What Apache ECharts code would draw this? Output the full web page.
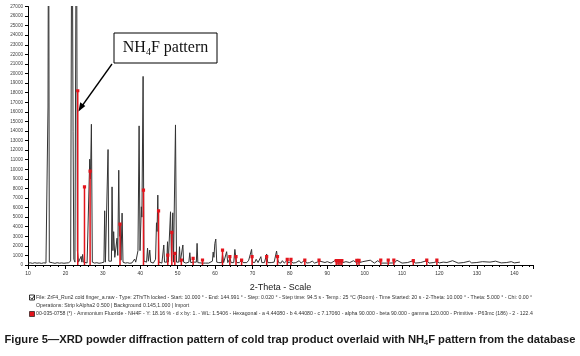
<!DOCTYPE html>
<html>
<head>
<meta charset="utf-8">
<script src="https://cdn.jsdelivr.net/npm/echarts@6/dist/echarts.min.js"></script>
<style>
html,body{margin:0;padding:0;background:#fff;}
#chart{width:580px;height:356px;}
</style>
</head>
<body>
<div id="chart"></div>
<script>
// ---- data ----
// measured scan (2-theta in degrees, counts)
const scanAngle = [
 10.0,10.6,11.2,11.8,12.4,13.0,13.6,14.2,14.8,15.15,15.35,15.5,15.7,16.0,16.6,17.2,17.8,18.4,19.0,19.6,20.2,20.8,21.4,21.75,22.05,22.25,22.55,22.95,23.2,23.5,23.9,24.2,24.4,24.6,24.8,25.3,25.8,26.2,26.5,26.7,26.95,27.2,27.8,28.4,29.0,29.6,30.3,30.5,30.7,31.2,31.4,31.6,32.3,32.47,32.7,32.9,33.2,33.8,34.0,34.26,34.45,34.6,34.85,35.15,35.4,36.0,36.6,37.2,37.8,38.5,38.8,39.4,39.7,39.95,40.3,40.45,40.77,41.0,41.7,41.95,42.2,42.55,42.8,43.5,44.1,44.35,44.5,44.7,45.0,45.8,46.3,46.5,47.1,47.3,47.5,47.9,48.1,48.35,48.7,48.9,49.2,49.43,49.7,50.3,50.5,50.7,51.2,51.4,51.6,52.2,53.0,53.26,53.5,54.2,55.0,55.2,55.4,56.5,57.0,57.5,58.3,59.3,59.5,59.7,59.95,60.2,60.45,61.0,61.8,62.0,62.3,62.8,63.1,63.4,64.0,64.3,65.0,65.3,65.6,65.8,66.5,67.1,67.5,68.5,69.0,69.5,69.77,70.0,70.6,71.0,71.5,72.25,72.5,73.2,73.8,74.1,75.0,75.8,76.45,76.7,77.0,77.6,78.0,78.5,79.3,79.7,80.3,80.8,81.6,82.5,83.0,84.0,84.5,85.3,86.0,86.6,88.0,88.5,89.4,90.0,91.0,92.0,92.6,93.0,94.0,95.0,96.0,97.0,98.0,98.6,99.5,100.0,101.5,102.6,103.5,104.3,104.8,106.3,106.8,108.0,108.6,110.0,111.5,113.0,113.5,115.0,116.6,117.2,118.5,119.3,120.0,121.0,122.0,123.5,125.0,126.5,128.0,128.6,130.0,131.5,132.0,133.5,135.0,136.5,138.0,139.2,140.0,141.5,143.0,144.0,145.0
];
const scanCounts = [
 180,230,170,240,190,220,170,230,200,300,16500,45000,300,180,230,170,240,190,220,180,210,230,400,45000,13900,600,300,45000,1500,300,220,900,300,1100,300,260,220,400,11050,9000,14700,300,200,240,180,220,300,5660,300,300,12060,400,400,8160,1500,3480,800,2800,1000,9900,3000,4380,500,5420,300,200,240,180,220,620,300,1500,14530,1500,6080,5000,19700,400,300,1770,400,1560,300,200,600,4410,3500,7300,300,200,2090,300,300,2430,300,500,5560,400,5450,300,300,14630,300,300,1910,300,300,2090,300,200,300,1280,250,300,300,2260,250,200,400,200,200,400,1350,800,2260,2710,300,250,250,1100,250,250,1390,250,700,250,250,1630,600,250,250,500,250,250,500,700,1630,300,250,600,250,870,250,250,1150,250,250,300,1460,700,250,200,450,200,500,200,450,200,250,450,200,500,200,250,400,200,400,200,260,350,200,450,200,400,230,350,250,450,200,250,350,220,500,200,450,200,400,200,300,220,500,200,260,450,200,260,450,200,260,350,220,300,260,450,200,260,400,220,260,350,220,300,400,220,260,350,220,300
];
// NH4F reference pattern 00-035-0758 (2-theta, counts)
const refAngle = [23.3,25.1,26.6,34.6,40.87,44.9,47.37,48.45,49.25,51.0,54.14,56.65,62.0,63.96,65.6,67.1,69.9,73.8,76.7,79.3,80.3,84.0,87.8,92.4,92.9,93.4,93.9,97.9,98.5,104.3,106.3,107.8,113.0,116.6,119.3];
const refCounts = [18200,8160,9800,4270,7820,5660,1040,3410,1220,520,700,520,1560,870,870,520,870,870,870,590,590,520,520,450,450,450,450,480,480,500,500,500,450,500,500];
// axis ticks
const xMin = 10, xMax = 145, xStep = 10;
const yMin = 0, yMax = 27000, yStep = 1000;

const scan = scanAngle.map((a, i) => [a, scanCounts[i]]);
const ref = refAngle.map((a, i) => [a, refCounts[i]]);

const RED = '#e3141c';
const chart = echarts.init(document.getElementById('chart'), null, {renderer: 'canvas'});
const tiny = {fontFamily: 'Liberation Sans, Arial, sans-serif', fontSize: 5.2, fill: '#333'};

chart.setOption({
  animation: false,
  backgroundColor: '#fff',
  grid: {left: 28, top: 6.5, right: 47, bottom: 91, containLabel: false, outerBoundsMode: 'none'},
  xAxis: {
    type: 'value', min: xMin, max: xMax, interval: xStep,
    name: '2-Theta - Scale', nameLocation: 'middle', nameGap: 18,
    nameTextStyle: {fontFamily: 'Liberation Sans, Arial, sans-serif', fontSize: 9, color: '#222'},
    axisLine: {show: true, lineStyle: {color: '#000', width: 1}},
    axisTick: {show: true, length: 4, lineStyle: {color: '#000'}},
    minorTick: {show: true, splitNumber: 5, length: 2, lineStyle: {color: '#000'}},
    axisLabel: {fontFamily: 'Liberation Sans, Arial, sans-serif', fontSize: 5, color: '#333', margin: 6,
      formatter: v => (v > 140 ? '' : String(v))},
    splitLine: {show: false}
  },
  yAxis: {
    type: 'value', min: yMin, max: yMax, interval: yStep,
    name: 'Lin (Counts)', nameLocation: 'middle', nameGap: 23,
    nameTextStyle: {fontFamily: 'Liberation Sans, Arial, sans-serif', fontSize: 9, color: '#222'},
    axisLine: {show: true, lineStyle: {color: '#000', width: 1}},
    axisTick: {show: true, length: 3, lineStyle: {color: '#000'}},
    axisLabel: {fontFamily: 'Liberation Sans, Arial, sans-serif', fontSize: 4.6, color: '#444', margin: 5,
      formatter: v => String(v)},
    splitLine: {show: false}
  },
  series: [
    {
      type: 'line', data: scan, showSymbol: false, symbol: 'none', clip: true,
      lineStyle: {color: '#333', width: 1}, z: 2
    },
    {
      type: 'custom', data: ref, clip: true, z: 3,
      renderItem: function (params, api) {
        const top = api.coord([api.value(0), api.value(1)]);
        const base = api.coord([api.value(0), 0]);
        return {type: 'group', children: [
          {type: 'line', shape: {x1: top[0], y1: top[1], x2: base[0], y2: base[1]},
           style: {stroke: RED, lineWidth: 1.5}},
          {type: 'rect', shape: {x: top[0] - 1.6, y: top[1] - 1.6, width: 3.2, height: 3.2},
           style: {fill: RED}}
        ]};
      }
    }
  ],
  graphic: [
    // annotation box
    {type: 'rect', shape: {x: 114, y: 33, width: 103, height: 30},
     style: {fill: '#fff', stroke: '#000', lineWidth: 1}, z: 10},
    {type: 'text', x: 165.5, y: 48, z: 11,
     style: {text: '{n|NH}{s|4}{n|F pattern}', align: 'center', verticalAlign: 'middle',
       rich: {n: {fontFamily: 'Liberation Serif, Times New Roman, serif', fontSize: 16, fill: '#111'},
              s: {fontFamily: 'Liberation Serif, Times New Roman, serif', fontSize: 10, fill: '#111', padding: [8, 0, 0, 0]}}}},
    {type: 'line', shape: {x1: 112, y1: 64, x2: 82, y2: 106},
     style: {stroke: '#000', lineWidth: 1.3}, z: 10},
    {type: 'polygon', shape: {points: [[78.5, 111.5], [80.2, 102.2], [85.3, 105.9]]},
     style: {fill: '#000'}, z: 10},
    // legend line 1
    {type: 'rect', shape: {x: 29.5, y: 295, width: 5, height: 5}, style: {fill: '#fff', stroke: '#000', lineWidth: 0.8}},
    {type: 'polyline', shape: {points: [[30.5, 297.5], [32, 299.3], [34.5, 295.5]]}, style: {stroke: '#000', lineWidth: 0.8, fill: null}},
    {type: 'text', x: 36, y: 297.5,
     style: Object.assign({}, tiny, {text: 'File: ZrF4_Run2 cold finger_a.raw - Type: 2Th/Th locked - Start: 10.000 ° - End: 144.991 ° - Step: 0.020 ° - Step time: 94.5 s - Temp.: 25 °C (Room) - Time Started: 20 s - 2-Theta: 10.000 ° - Theta: 5.000 ° - Chi: 0.00 °', verticalAlign: 'middle'})},
    {type: 'text', x: 36, y: 306,
     style: Object.assign({}, tiny, {text: 'Operations: Strip kAlpha2 0.500 | Background 0.145,1.000 | Import', verticalAlign: 'middle'})},
    {type: 'rect', shape: {x: 29.5, y: 311.5, width: 5, height: 5}, style: {fill: RED, stroke: '#000', lineWidth: 0.6}},
    {type: 'text', x: 36, y: 314,
     style: Object.assign({}, tiny, {text: '00-035-0758 (*) - Ammonium Fluoride - NH4F - Y: 18.16 % - d x by: 1. - WL: 1.5406 - Hexagonal - a 4.44080 - b 4.44080 - c 7.17060 - alpha 90.000 - beta 90.000 - gamma 120.000 - Primitive - P63mc (186) - 2 - 122.4', verticalAlign: 'middle'})},
    // caption
    {type: 'text', x: 290, y: 340,
     style: {text: '{b|Figure 5—XRD powder diffraction pattern of cold trap product overlaid with NH}{s|4}{b|F pattern from the database}',
       align: 'center', verticalAlign: 'middle',
       rich: {b: {fontFamily: 'Liberation Sans Narrow, Arial Narrow, Liberation Sans, sans-serif', fontWeight: 'bold', fontSize: 11.2, fill: '#1a1a1a'},
              s: {fontFamily: 'Liberation Sans Narrow, Arial Narrow, Liberation Sans, sans-serif', fontWeight: 'bold', fontSize: 7.3, fill: '#1a1a1a', padding: [5, 0, 0, 0]}}}}
  ]
});
</script>
</body>
</html>
